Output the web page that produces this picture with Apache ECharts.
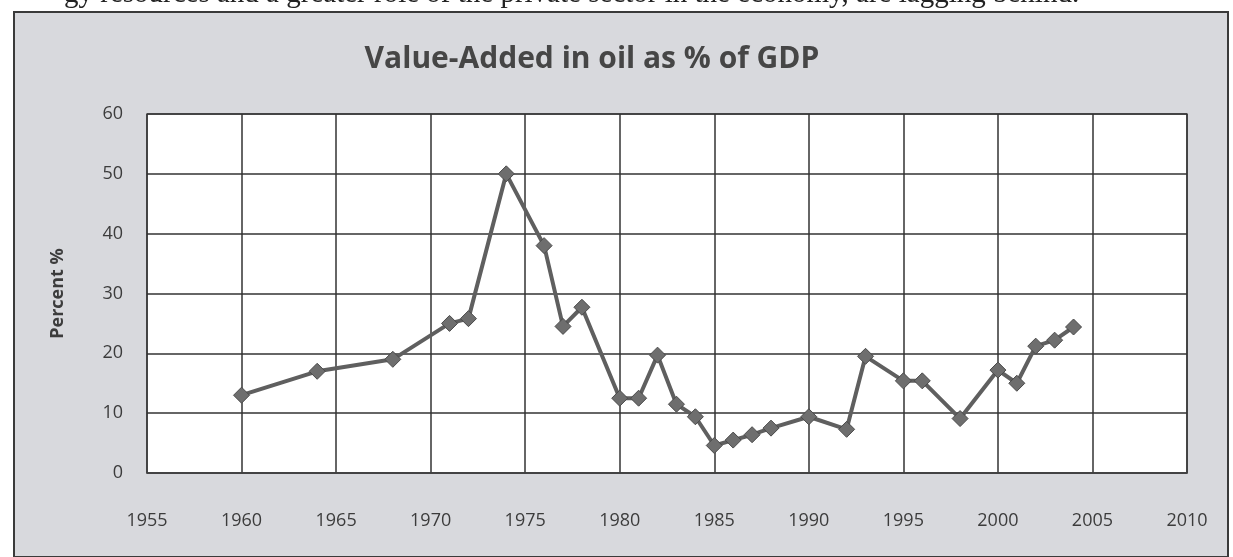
<!DOCTYPE html>
<html>
<head>
<meta charset="utf-8">
<script src="https://cdn.jsdelivr.net/npm/echarts@6/dist/echarts.min.js"></script>
<style>
  html, body { margin: 0; padding: 0; background: #fff; }
  #chart { width: 1233px; height: 557px; }
</style>
</head>
<body>
<div id="chart"></div>
<script>
// years and values
var years = [1960, 1964, 1968, 1971, 1972, 1974, 1976, 1977, 1978, 1980, 1981, 1982, 1983, 1984,
  1985, 1986, 1987, 1988, 1990, 1992, 1993, 1995, 1996, 1998, 2000, 2001, 2002, 2003, 2004]
var values = [13, 17, 19, 25, 25.8, 50, 38, 24.5, 27.7, 12.5, 12.5, 19.7, 11.5, 9.4,
  4.6, 5.5, 6.4, 7.5, 9.4, 7.3, 19.5, 15.4, 15.4, 9.1, 17.2, 15, 21.2, 22.2, 24.4]
var xTicks = [1955, 1960, 1965, 1970, 1975, 1980, 1985, 1990, 1995, 2000, 2005, 2010]
var yTicks = [0, 10, 20, 30, 40, 50, 60]

var chart = echarts.init(document.getElementById('chart'))

var points = years.map(function (y, i) {
  return [y, values[i]]
})

chart.setOption({
  backgroundColor: '#fff',
  animation: false,
  title: {
    text: 'Value-Added in oil as % of GDP',
    left: 587,
    top: 39,
    textAlign: 'center',
    textStyle: {
      fontFamily: 'Open Sans',
      fontWeight: 'bold',
      fontSize: 30,
      color: '#464646'
    }
  },
  graphic: [
    {
      type: 'rect',
      z: -10,
      shape: { x: 14, y: 12, width: 1214, height: 545 },
      style: { fill: '#d8d9dd', stroke: '#3a3a3a', lineWidth: 2 }
    },
    {
      type: 'text',
      z: -10,
      left: 64,
      top: -20,
      style: {
        text: 'gy resources and a greater role of the private sector in the economy, are lagging behind.',
        font: '29px "Liberation Serif"',
        fill: '#222'
      }
    }
  ],
  grid: {
    left: 147,
    right: 46,
    top: 114,
    bottom: 84,
    show: true,
    backgroundColor: '#fff',
    borderColor: '#555',
    borderWidth: 1.5
  },
  xAxis: {
    type: 'value',
    min: xTicks[0],
    max: xTicks[xTicks.length - 1],
    interval: 5,
    axisLine: { show: true, lineStyle: { color: '#444', width: 1.5 } },
    axisTick: { show: false },
    axisLabel: {
      margin: 39,
      fontFamily: 'Open Sans',
      fontSize: 18,
      color: '#3c3c3c',
      formatter: function (v) { return String(v) }
    },
    splitLine: { show: true, lineStyle: { color: '#333', width: 1.5 } }
  },
  yAxis: {
    type: 'value',
    min: yTicks[0],
    max: yTicks[yTicks.length - 1],
    interval: 10,
    name: 'Percent %',
    nameLocation: 'middle',
    nameGap: 80,
    nameTextStyle: {
      fontFamily: 'Open Sans',
      fontWeight: 'bold',
      fontSize: 18,
      color: '#3c3c3c'
    },
    axisLine: { show: false },
    axisTick: { show: false },
    axisLabel: {
      margin: 24,
      fontFamily: 'Open Sans',
      fontSize: 18,
      color: '#3c3c3c'
    },
    splitLine: { show: true, lineStyle: { color: '#333', width: 1.5 } }
  },
  series: [{
    type: 'line',
    data: points,
    symbol: 'diamond',
    symbolSize: 16,
    lineStyle: { color: '#5f5f5f', width: 4 },
    itemStyle: { color: '#6e6e6e', borderColor: '#4a4a4a', borderWidth: 1 }
  }]
})
</script>
</body>
</html>
